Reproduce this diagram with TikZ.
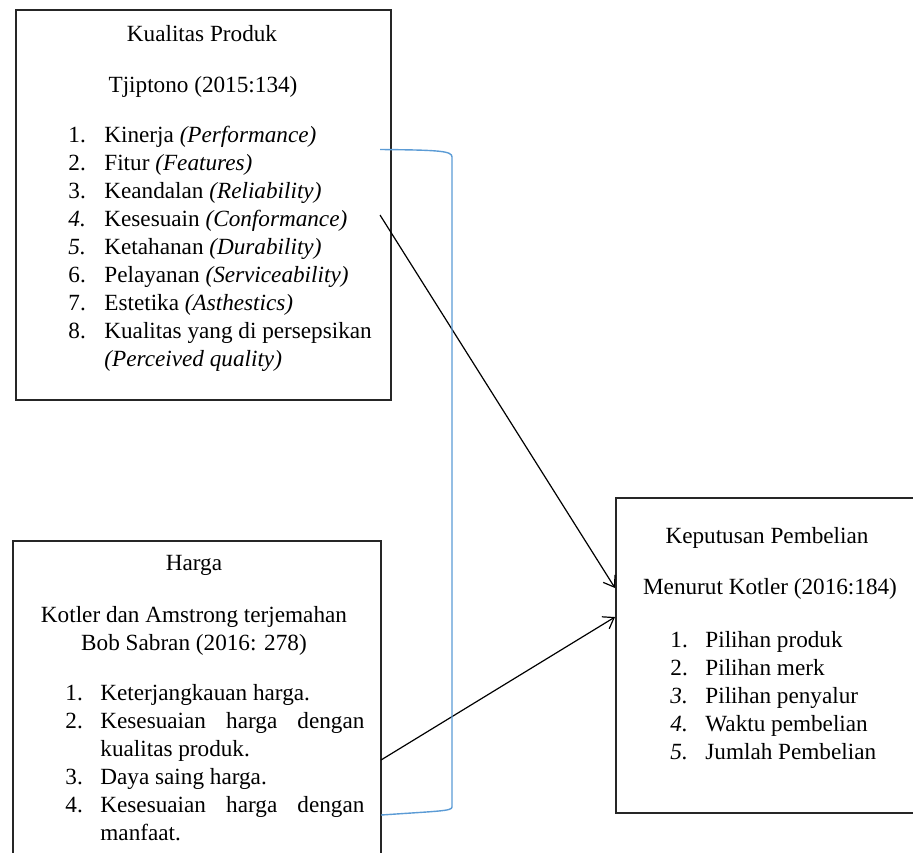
\documentclass[tikz,border=0pt]{standalone}
\usepackage{fontspec}
\setmainfont{Liberation Serif}
\usetikzlibrary{arrows.meta, positioning, calc}

\definecolor{bracketblue}{HTML}{5B9BD5}
\newcommand{\justline}[1]{\makebox[132pt][s]{#1}}

\begin{document}
\begin{tikzpicture}[x=0.5pt, y=-0.5pt,
    every node/.style={font=\fontsize{11.6}{14}\selectfont},
    box/.style={draw=black!85, line width=0.8pt, inner sep=0pt},
    heading/.style={anchor=base, inner sep=0pt},
    itemlist/.style={anchor=base west, inner sep=0pt},
    link/.style={-{Straight Barb[length=5pt, width=7pt]}, line width=0.6pt},
    bracket/.style={draw=bracketblue, line width=0.7pt}]
    \path[use as bounding box, clip] (0,0) rectangle (913,852);

    % Boxes
    \node[box, minimum width=187.5pt, minimum height=195pt] (kualitas) at (203.5,205) {};
    \node[box, minimum width=184pt, minimum height=169.5pt] (harga) at (197,710.5) {};
    \node[box, minimum width=160pt, minimum height=157.5pt] (keputusan) at (776,655.5) {};

    % Kualitas Produk
    \node[heading] (kualitas-title) at (202,41) {Kualitas Produk};
    \node[heading] (kualitas-src) at (203,92) {Tjiptono (2015:134)};
    \node[itemlist] (kualitas-list) at (68,142) {\begin{tabular}[t]{@{}p{18pt}@{}l@{}}
        1. & Kinerja \textit{(Performance)}\\
        2. & Fitur \textit{(Features)}\\
        3. & Keandalan \textit{(Reliability)}\\
        \textit{4.} & Kesesuain \textit{(Conformance)}\\
        \textit{5.} & Ketahanan \textit{(Durability)}\\
        6. & Pelayanan \textit{(Serviceability)}\\
        7. & Estetika \textit{(Asthestics)}\\
        8. & Kualitas yang di persepsikan\\
           & \textit{(Perceived quality)}
    \end{tabular}};

    % Harga
    \node[heading] (harga-title) at (194,570) {Harga};
    \node[heading] (harga-src) at (194,622) {\begin{tabular}[t]{@{}c@{}}
        Kotler dan Amstrong terjemahan\\
        Bob Sabran (2016: 278)
    \end{tabular}};
    \node[itemlist] (harga-list) at (65,700) {\begin{tabular}[t]{@{}p{17.5pt}@{}l@{}}
        1. & Keterjangkauan harga.\\
        2. & \justline{Kesesuaian harga dengan}\\
           & kualitas produk.\\
        3. & Daya saing harga.\\
        4. & \justline{Kesesuaian harga dengan}\\
           & manfaat.
    \end{tabular}};

    % Keputusan Pembelian
    \node[heading] (keputusan-title) at (767,543) {Keputusan Pembelian};
    \node[heading] (keputusan-src) at (770,594) {Menurut Kotler (2016:184)};
    \node[itemlist] (keputusan-list) at (670,647) {\begin{tabular}[t]{@{}p{17.5pt}@{}l@{}}
        1. & Pilihan produk\\
        2. & Pilihan merk\\
        \textit{3.} & Pilihan penyalur\\
        \textit{4.} & Waktu pembelian\\
        \textit{5.} & Jumlah Pembelian
    \end{tabular}};

    % Arrows into Keputusan Pembelian
    \coordinate (kualitas-out) at (380,215);
    \coordinate (harga-out) at (381,760);
    \coordinate (keputusan-in1) at (615,588);
    \coordinate (keputusan-in2) at (615,617);
    \draw[link] (kualitas-out) -- (keputusan-in1);
    \draw[link] (harga-out) -- (keputusan-in2);

    % Blue bracket joining both boxes
    \coordinate (kualitas-b) at (380,149.5);
    \coordinate (harga-b) at (381,815);
    \draw[bracket] (kualitas-b) .. controls (440,150) and (452,151) .. (452,157)
        -- (452,807) .. controls (452,811) and (440,811) .. (harga-b);
\end{tikzpicture}
\end{document}
